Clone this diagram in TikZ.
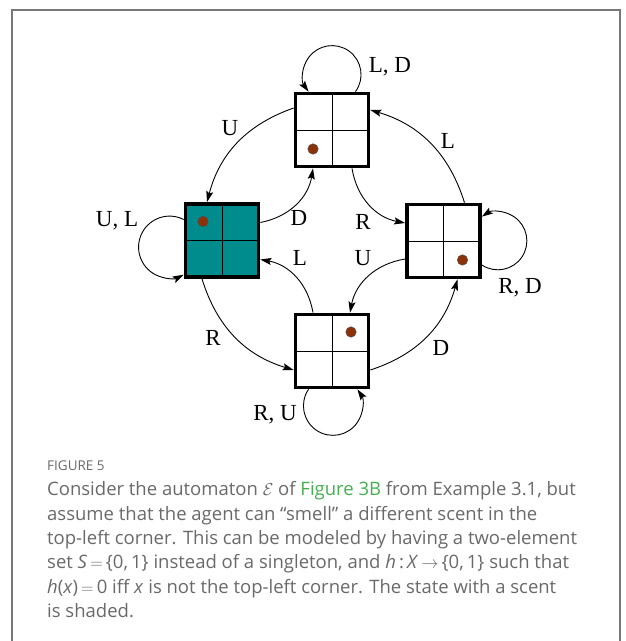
\documentclass[tikz,border=0pt]{standalone}
\usepackage{fontspec}
\setmainfont{Liberation Serif}
\newfontfamily\capfont{Open Sans}
\usetikzlibrary{arrows.meta,calc}
\definecolor{scentfill}{RGB}{0,140,140}
\definecolor{dotcol}{RGB}{140,50,10}
\definecolor{capgray}{RGB}{105,105,105}
\definecolor{linkgreen}{RGB}{70,175,80}
\definecolor{framegray}{RGB}{120,120,120}

\begin{document}
\begin{tikzpicture}[x=1pt,y=1pt,
  cell/.style={draw=black,line width=3.7pt,minimum size=73pt,inner sep=0pt,fill=white},
  gridline/.style={line width=0.8pt},
  agent/.style={circle,draw=black!70,line width=0.4pt,fill=dotcol,minimum size=10.5pt,inner sep=0pt},
  move/.style={line width=0.9pt,-{Stealth[length=11pt,width=7pt,inset=2pt]}},
  lbl/.style={font=\fontsize{23}{23}\selectfont,inner sep=0pt},
  capline/.style={anchor=base west,inner sep=0pt,font=\capfont\fontsize{18.5}{24}\selectfont,text=capgray}]

\useasboundingbox (0,0) rectangle (625,641);
% open frame around figure and caption
\draw[framegray,line width=1.5pt] (12,0) -- (12,631) -- (620,631) -- (620,0);

% the four states (2x2 grids)
\node[cell] (T) at (332,511) {};
\node[cell,fill=scentfill] (W) at (222,400.5) {};
\node[cell] (E) at (443.5,400) {};
\node[cell] (S) at (332,290) {};
\foreach \n in {T,W,E,S}{
  \draw[gridline] (\n.north) -- (\n.south);
  \draw[gridline] (\n.west) -- (\n.east);
}

% agent positions
\node[agent] (aT) at ($(T)+(-19,-19)$) {};
\node[agent] (aW) at ($(W)+(-19,19)$) {};
\node[agent] (aE) at ($(E)+(19,-19)$) {};
\node[agent] (aS) at ($(S)+(19,19)$) {};

% self loops (circular arcs leaving and re-entering each state)
\draw[move] ([xshift=23.5pt]T.north) arc[start angle=-36,end angle=216,radius=29pt];
\draw[move] ([yshift=21pt]W.west) arc[start angle=63,end angle=297,radius=31pt];
\draw[move] ([yshift=-24pt]E.east) arc[start angle=-123.5,end angle=123.5,radius=29pt];
\draw[move] ([xshift=-23.5pt]S.south) arc[start angle=146,end angle=394,radius=29.5pt];

% outer transitions
\draw[move] ([yshift=22pt]T.west) to[bend right=28] ([xshift=-15pt]W.north);
\draw[move] ([xshift=21pt]E.north) to[bend right=28] ([yshift=20pt]T.east);
\draw[move] ([xshift=-20pt]W.south) to[bend right=28] ([yshift=-19pt]S.west);
\draw[move] ([yshift=-19pt]S.east) to[bend right=28] ([xshift=14pt]E.south);

% inner transitions
\draw[move] ([yshift=18pt]W.east) to[bend right=35] ([xshift=-19pt]T.south);
\draw[move] ([xshift=20pt]T.south) to[bend right=35] ([yshift=18pt]E.west);
\draw[move] ([yshift=-18pt]E.west) to[bend right=35] ([xshift=18pt]S.north);
\draw[move] ([xshift=-19pt]S.north) to[bend right=35] ([yshift=-19pt]W.east);

% transition labels
\node[lbl] (lLD) at (390,574) {L, D};
\node[lbl] (lUL) at (117,420) {U, L};
\node[lbl] (lRD) at (520,353) {R, D};
\node[lbl] (lRU) at (275,226) {R, U};
\node[lbl] (lU1) at (230,513) {U};
\node[lbl] (lL1) at (448,500) {L};
\node[lbl] (lR1) at (213,303) {R};
\node[lbl] (lD1) at (441,293) {D};
\node[lbl] (lD2) at (299,423) {D};
\node[lbl] (lR2) at (363,419) {R};
\node[lbl] (lU2) at (363,383) {U};
\node[lbl] (lL2) at (300,383) {L};

% caption
\node[capline,font=\capfont\fontsize{13.5}{13.5}\selectfont] (fig) at (47,170) {FIGURE 5};
\node[capline] (c1) at (47,145) {Consider the automaton $\mathcal{E}$ of \textcolor{linkgreen}{Figure 3B} from Example 3.1, but};
\node[capline] (c2) at (47,120.7) {assume that the agent can “smell” a different scent in the};
\node[capline] (c3) at (47,96.4) {top-left corner. This can be modeled by having a two-element};
\node[capline] (c4) at (47,72.1) {set \textit{S}\,$=$\,\{0,\,1\} instead of a singleton, and \textit{h}\,:\,\textit{X}\,$\rightarrow$\,\{0,\,1\} such that};
\node[capline] (c5) at (47,47.8) {\textit{h}(\textit{x})\,$=$\,0 iff \textit{x} is not the top-left corner. The state with a scent};
\node[capline] (c6) at (47,23.5) {is shaded.};
\end{tikzpicture}
\end{document}
